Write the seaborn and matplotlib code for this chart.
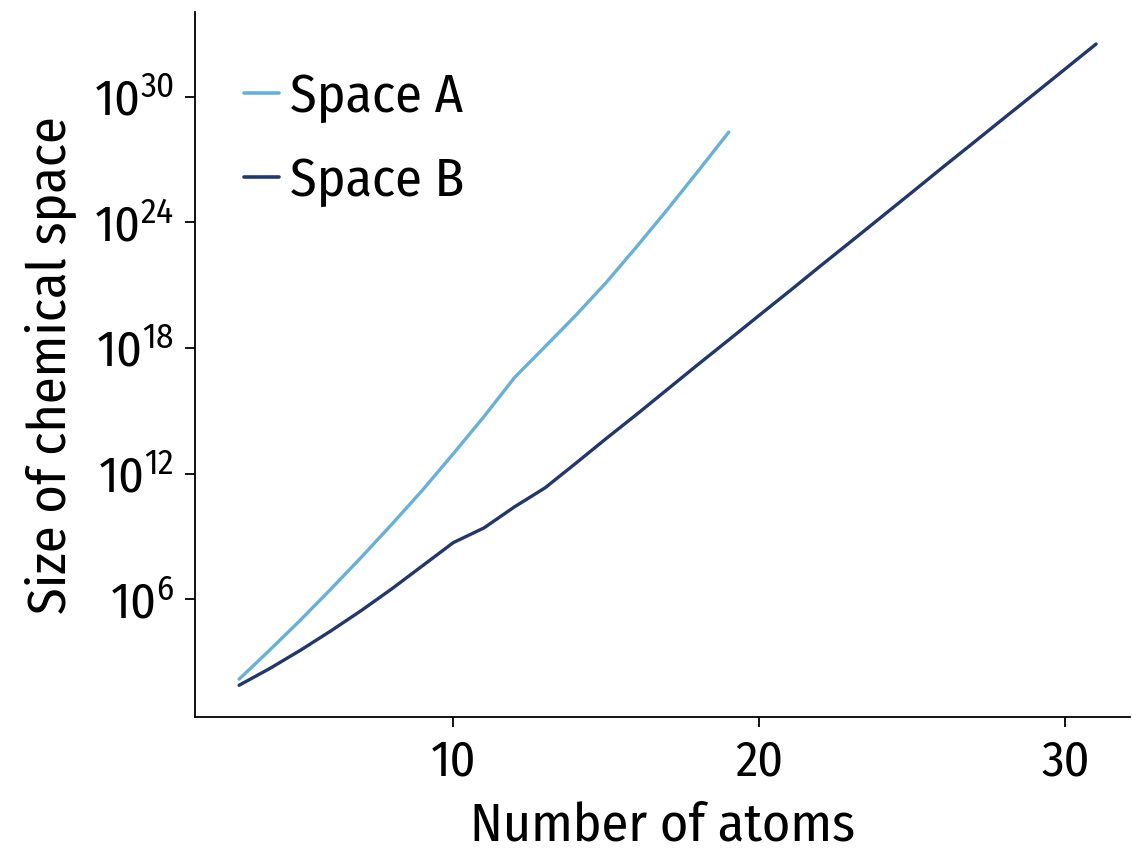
import matplotlib
matplotlib.use("Agg")
import matplotlib.pyplot as plt
from matplotlib import font_manager
from matplotlib.ticker import FixedLocator, LogFormatterSciNotation, NullLocator
import pandas as pd
import seaborn as sns

# Size of enumerated chemical space (log10 of the count) per number of heavy atoms
atoms_a = list(range(3, 20))
log_size_a = [2.17, 3.56, 4.99, 6.48, 8.01, 9.59, 11.22, 12.95, 14.72, 16.59,
              18.07, 19.56, 21.14, 22.86, 24.63, 26.46, 28.32]

atoms_b = list(range(3, 32))
log_size_b = [1.88, 2.68, 3.55, 4.48, 5.46, 6.50, 7.60, 8.70, 9.40, 10.41,
              11.32, 12.49, 13.68, 14.84, 16.03, 17.22, 18.39, 19.57, 20.74,
              21.93, 23.10, 24.28, 25.46, 26.65, 27.82, 29.00, 30.17, 31.35, 32.53]

series_names = ["Space A", "Space B"]
series_colors = ["#6AAFD6", "#22386A"]
x_ticks = [10, 20, 30]
y_tick_exponents = [6, 12, 18, 24, 30]


def pick_condensed_font():
    """Return (family, stretch) for a narrow sans font if one is installed."""
    entries = font_manager.fontManager.ttflist
    names = {e.name for e in entries}
    for name in ["Fira Sans Condensed", "Roboto Condensed", "Open Sans Condensed",
                 "Noto Sans Condensed", "Liberation Sans Narrow", "DejaVu Sans Condensed"]:
        if name in names:
            return name, "normal"
    for fam in ["Noto Sans", "DejaVu Sans", "Open Sans", "Roboto"]:
        for e in entries:
            if e.name == fam and e.stretch in ("condensed", "semi-condensed",
                                               "extra-condensed") and e.style == "normal":
                return fam, "condensed"
    return "Roboto", "normal"


frames = [
    pd.DataFrame({"atoms": atoms_a, "size": [10.0 ** v for v in log_size_a],
                  "space": series_names[0]}),
    pd.DataFrame({"atoms": atoms_b, "size": [10.0 ** v for v in log_size_b],
                  "space": series_names[1]}),
]
df = pd.concat(frames, ignore_index=True)

sns.set_theme(style="ticks")
family, stretch = pick_condensed_font()
plt.rcParams["font.family"] = [family, "DejaVu Sans"]
plt.rcParams["font.stretch"] = stretch
plt.rcParams["mathtext.default"] = "regular"
plt.rcParams["text.color"] = "black"
plt.rcParams["axes.labelcolor"] = "black"

fig = plt.figure(figsize=(11.32, 8.55), dpi=100)
ax = fig.add_axes([0.172, 0.161, 0.826, 0.825])

sns.lineplot(data=df, x="atoms", y="size", hue="space",
             palette=dict(zip(series_names, series_colors)),
             linewidth=2.4, ax=ax)
ax.set_yscale("log")
ax.set_xlim(1.55, 32.1)

ax.xaxis.set_major_locator(FixedLocator(x_ticks))
ax.yaxis.set_major_locator(FixedLocator([10.0 ** e for e in y_tick_exponents]))
ax.yaxis.set_major_formatter(LogFormatterSciNotation(base=10))
ax.yaxis.set_minor_locator(NullLocator())
ax.xaxis.set_minor_locator(NullLocator())

ax.tick_params(axis="both", which="major", labelsize=36, length=7, width=1.3,
               color="black", labelcolor="black", pad=8)
for side in ("left", "bottom"):
    ax.spines[side].set_linewidth(1.3)
    ax.spines[side].set_color("black")
sns.despine(ax=ax)

ax.set_xlabel("Number of atoms", fontsize=39, color="black", labelpad=10)
ax.set_ylabel("Size of chemical space", fontsize=39, color="black", labelpad=12)

leg = ax.legend(loc="upper left", bbox_to_anchor=(0.053, 0.916), frameon=False,
                fontsize=39, handlelength=0.65, handletextpad=0.19,
                labelspacing=0.6, borderaxespad=0, borderpad=0)
for text in leg.get_texts():
    text.set_color("black")
for line in leg.get_lines():
    line.set_linewidth(2.6)

fig.savefig("out.png", dpi=100, facecolor="white")
